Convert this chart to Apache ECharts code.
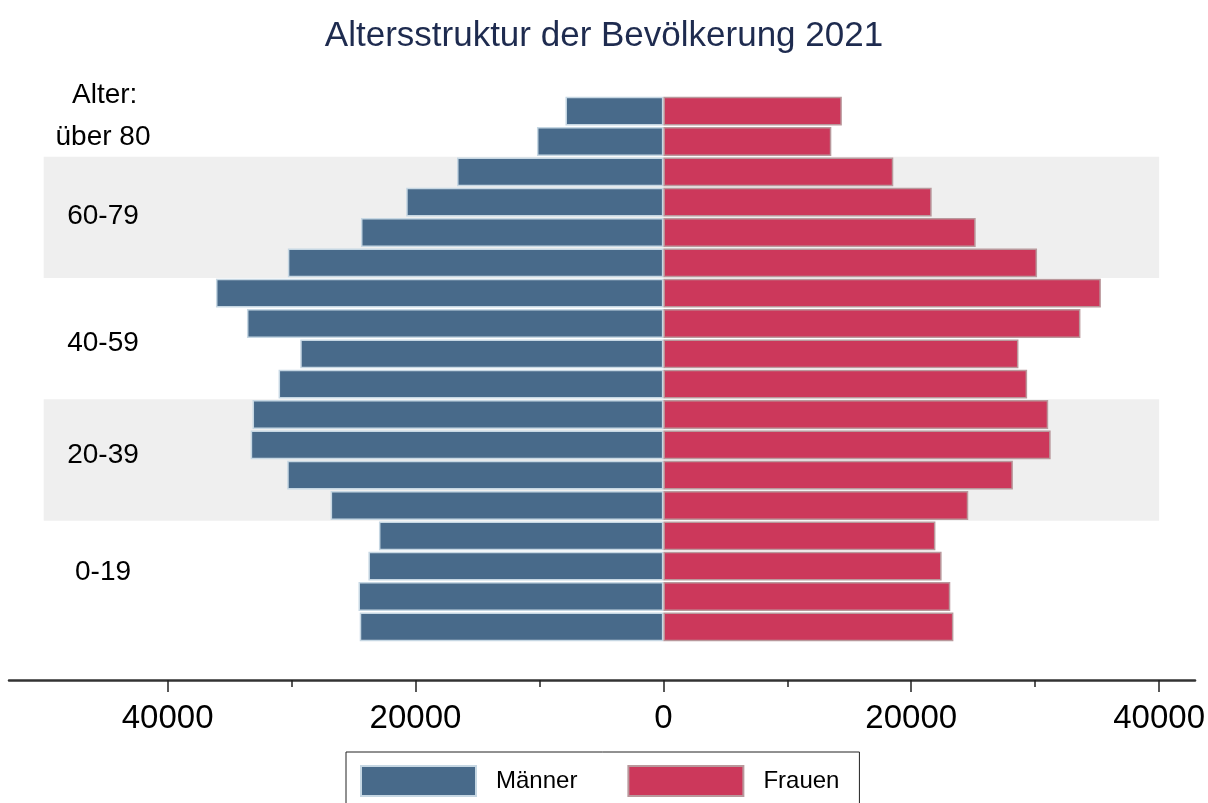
<!DOCTYPE html>
<html>
<head>
<meta charset="utf-8">
<script src="https://cdn.jsdelivr.net/npm/echarts@6/dist/echarts.min.js"></script>
<style>
  html, body { margin: 0; padding: 0; background: #fff; }
  #chart { width: 1208px; height: 803px; }
</style>
</head>
<body>
<div id="chart"></div>
<script>
// ---- data ----
const ageGroups = ['0-4','5-9','10-14','15-19','20-24','25-29','30-34','35-39','40-44','45-49','50-54','55-59','60-64','65-69','70-74','75-79','80-84','85+'];
const maenner = [24500, 24600, 23800, 22950, 26850, 30350, 33300, 33150, 31050, 29300, 33600, 36100, 30300, 24400, 20750, 16650, 10200, 7900];
const frauen  = [23400, 23150, 22450, 21950, 24600, 28200, 31250, 31050, 29350, 28650, 33650, 35300, 30150, 25200, 21650, 18550, 13550, 14400];
const seriesNames = ['Männer', 'Frauen'];
// y-axis group labels and where they sit on the age scale (in age-group index units)
const groupLabels = ['0-19', '20-39', '40-59', '60-79', 'über 80'];
const groupLabelAt = [1.8, 5.65, 9.35, 13.55, 16.15];
// shaded age bands: [first group index, last group index]
const shadeBands = [[4, 7], [12, 15]];
const shadeFrom = -50000, shadeTo = 40000;
// x-axis ticks
const majorTicks = [-40000, -20000, 0, 20000, 40000];
const minorTicks = [-30000, -10000, 10000, 30000];
const xMin = -52800, xMax = 42900;

const FONT = "'Liberation Sans', Arial, sans-serif";
const chart = echarts.init(document.getElementById('chart'), null, { renderer: 'canvas' });

const option = {
  animation: false,
  backgroundColor: '#ffffff',
  title: [
    {
      text: 'Altersstruktur der Bevölkerung 2021',
      left: 'center', top: 19, padding: 0,
      textStyle: { fontFamily: FONT, fontSize: 35, fontWeight: 'normal', color: '#1e2b4f' }
    },
    {
      text: 'Alter:',
      left: 72, top: 81, padding: 0,
      textStyle: { fontFamily: FONT, fontSize: 28, fontWeight: 'normal', color: '#000' }
    }
  ],
  legend: {
    data: seriesNames,
    left: 346, top: 752,
    orient: 'horizontal',
    padding: [13, 20, 13, 14],
    itemGap: 50,
    itemWidth: 115, itemHeight: 30,
    icon: 'rect',
    borderColor: '#222', borderWidth: 1,
    textStyle: { fontFamily: FONT, fontSize: 24, color: '#000', padding: [0, 0, 0, 15] }
  },
  grid: { left: 9, right: 12, top: 96, bottom: 161, containLabel: false },
  xAxis: [
    {
      type: 'value', min: xMin, max: xMax, offset: 38, position: 'bottom',
      axisLine: { show: true, onZero: false, lineStyle: { color: '#333', width: 2.5 } },
      axisTick: { show: true, customValues: majorTicks, length: 12, lineStyle: { color: '#222', width: 1.5 } },
      axisLabel: {
        customValues: majorTicks, margin: 22,
        fontFamily: FONT, fontSize: 33, color: '#000',
        formatter: v => String(Math.abs(v))
      },
      splitLine: { show: false }
    },
    {
      type: 'value', min: xMin, max: xMax, offset: 38, position: 'bottom',
      axisLine: { show: false, onZero: false },
      axisTick: { show: true, customValues: minorTicks, length: 7, lineStyle: { color: '#222', width: 1.5 } },
      axisLabel: { show: false },
      splitLine: { show: false }
    }
  ],
  yAxis: [
    {
      type: 'category', data: ageGroups,
      axisLine: { show: false, onZero: false }, axisTick: { show: false }, axisLabel: { show: false },
      splitLine: { show: false }
    },
    {
      type: 'value', min: -0.5, max: 17.5, position: 'left',
      axisLine: { show: false, onZero: false }, axisTick: { show: false }, splitLine: { show: false },
      axisLabel: {
        inside: true, align: 'center', margin: 94,
        customValues: groupLabelAt,
        fontFamily: FONT, fontSize: 28, color: '#000',
        formatter: v => {
          const i = groupLabelAt.findIndex(p => Math.abs(p - v) < 1e-6);
          return i >= 0 ? groupLabels[i] : '';
        }
      }
    }
  ],
  series: [
    {
      type: 'custom',
      name: 'shade',
      xAxisIndex: 0, yAxisIndex: 0,
      silent: true, z: 0,
      encode: { y: [0, 1], x: [2, 3] },
      data: shadeBands.map(b => [b[0], b[1], shadeFrom, shadeTo]),
      renderItem: (params, api) => {
        const pLo = api.coord([api.value(2), api.value(0)]);
        const pHi = api.coord([api.value(3), api.value(1)]);
        const band = api.size([0, 1])[1];
        return {
          type: 'rect',
          shape: { x: pLo[0], y: pHi[1] - band / 2, width: pHi[0] - pLo[0], height: pLo[1] - pHi[1] + band },
          style: { fill: '#efefef' }
        };
      }
    },
    {
      type: 'bar', name: seriesNames[0],
      xAxisIndex: 0, yAxisIndex: 0,
      stack: 'pyr', z: 2,
      barCategoryGap: '5%',
      data: maenner.map(v => -v),
      itemStyle: { color: '#486a8a', borderColor: '#c6d7e3', borderWidth: 1.5 }
    },
    {
      type: 'bar', name: seriesNames[1],
      xAxisIndex: 0, yAxisIndex: 0,
      stack: 'pyr', z: 2,
      barCategoryGap: '5%',
      data: frauen,
      itemStyle: { color: '#cc385b', borderColor: '#b9989c', borderWidth: 1.5 }
    }
  ]
};
chart.setOption(option);
</script>
</body>
</html>
